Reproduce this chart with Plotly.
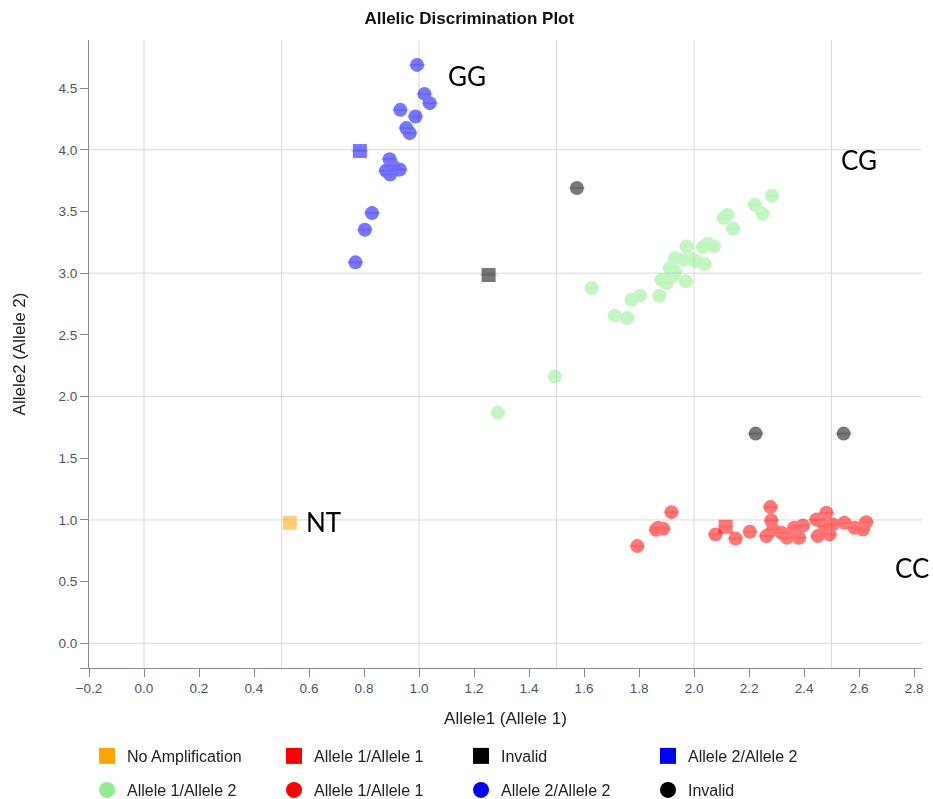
import plotly.graph_objects as go

# ---- data (Allele1 signal, Allele2 signal) ----
# Squares (controls / reference wells)
noamp_sq_x = [0.530]
noamp_sq_y = [0.977]
a1a1_sq_x = [2.115]
a1a1_sq_y = [0.945]
inv_sq_x = [1.253]
inv_sq_y = [2.985]
a2a2_sq_x = [0.785]
a2a2_sq_y = [3.990]

# Circles (samples)
a1a2_x = [2.284, 2.221, 2.249, 2.108, 2.122, 2.142, 1.973, 2.033, 2.051, 2.072,
          1.930, 1.961, 1.991, 2.009, 2.039, 1.912, 1.930, 1.924, 1.882, 1.900,
          1.970, 1.874, 1.803, 1.773, 1.628, 1.712, 1.757, 1.494, 1.287]
a1a2_y = [3.628, 3.555, 3.482, 3.447, 3.474, 3.360, 3.217, 3.212, 3.239, 3.217,
          3.123, 3.109, 3.115, 3.096, 3.075, 3.042, 3.015, 2.980, 2.947, 2.921,
          2.934, 2.818, 2.818, 2.785, 2.880, 2.656, 2.637, 2.162, 1.870]

a1a1_x = [1.794, 1.870, 1.888, 1.862, 1.918, 2.078, 2.151, 2.203, 2.278, 2.281,
          2.263, 2.287, 2.318, 2.338, 2.364, 2.382, 2.396, 2.445, 2.450, 2.481,
          2.475, 2.493, 2.505, 2.547, 2.584, 2.614, 2.626]
a1a1_y = [0.788, 0.937, 0.929, 0.920, 1.063, 0.883, 0.850, 0.904, 1.104, 0.996,
          0.869, 0.923, 0.896, 0.856, 0.937, 0.856, 0.955, 1.004, 0.869, 1.058,
          0.950, 0.883, 0.964, 0.977, 0.937, 0.923, 0.982]

a2a2_x = [0.993, 1.020, 1.039, 0.932, 0.987, 0.954, 0.966, 0.893, 0.905, 0.920,
          0.880, 0.895, 0.930, 0.829, 0.803, 0.769]
a2a2_y = [4.688, 4.453, 4.378, 4.324, 4.270, 4.176, 4.135, 3.924, 3.870, 3.840,
          3.830, 3.800, 3.840, 3.487, 3.352, 3.088]

inv_x = [1.574, 2.224, 2.544]
inv_y = [3.690, 1.700, 1.700]

# Cluster labels
cluster_labels = ["GG", "CG", "NT", "CC"]
cluster_lx = [1.175, 2.599, 0.652, 2.793]
cluster_ly = [4.601, 3.921, 0.984, 0.611]

# Axis ticks / grid
x_tickvals = [-0.2, 0.0, 0.2, 0.4, 0.6, 0.8, 1.0, 1.2, 1.4, 1.6, 1.8, 2.0, 2.2, 2.4, 2.6, 2.8]
y_tickvals = [-0.2, 0.0, 0.5, 1.0, 1.5, 2.0, 2.5, 3.0, 3.5, 4.0, 4.5]
y_ticktext = ["", "0.0", "0.5", "1.0", "1.5", "2.0", "2.5", "3.0", "3.5", "4.0", "4.5"]
grid_x = [0.0, 0.5, 1.0, 1.5, 2.0, 2.5]
grid_y = [0.0, 1.0, 2.0, 3.0, 4.0]

C_ORANGE = "#FFA500"
C_RED = "#FF0000"
C_BLACK = "#000000"
C_BLUE = "#0000FF"
C_GREEN = "#90EE90"

MS = 14
OP = 0.53

fig = go.Figure()


def add_points(xs, ys, color, symbol):
    fig.add_trace(go.Scatter(x=xs, y=ys, mode="markers", showlegend=False,
                             hoverinfo="x+y", opacity=OP,
                             marker=dict(symbol=symbol, size=MS, color=color,
                                         line=dict(width=0))))
    # faint horizontal band through each marker, as in the reference
    fig.add_trace(go.Scatter(x=xs, y=ys, mode="markers", showlegend=False,
                             hoverinfo="skip", opacity=0.14,
                             marker=dict(symbol="line-ew", size=MS - 2,
                                         color=color,
                                         line=dict(width=2, color=color))))


add_points(a1a2_x, a1a2_y, C_GREEN, "circle")
add_points(a1a1_x, a1a1_y, C_RED, "circle")
add_points(a2a2_x, a2a2_y, C_BLUE, "circle")
add_points(inv_x, inv_y, C_BLACK, "circle")
add_points(noamp_sq_x, noamp_sq_y, C_ORANGE, "square")
add_points(a1a1_sq_x, a1a1_sq_y, C_RED, "square")
add_points(inv_sq_x, inv_sq_y, C_BLACK, "square")
add_points(a2a2_sq_x, a2a2_sq_y, C_BLUE, "square")

# legend entries
legend_rows = [
    ("legend", "square", [("No Amplification", C_ORANGE), ("Allele 1/Allele 1", C_RED),
                          ("Invalid", C_BLACK), ("Allele 2/Allele 2", C_BLUE)]),
    ("legend2", "circle", [("Allele 1/Allele 2", C_GREEN), ("Allele 1/Allele 1", C_RED),
                           ("Allele 2/Allele 2", C_BLUE), ("Invalid", C_BLACK)]),
]
for leg, sym, items in legend_rows:
    for name, col in items:
        fig.add_trace(go.Scatter(x=[None], y=[None], mode="markers", name=name,
                                 legend=leg,
                                 marker=dict(symbol=sym, size=16, color=col)))

for gx in grid_x:
    fig.add_shape(type="line", xref="x", yref="paper", x0=gx, x1=gx, y0=0, y1=1,
                  line=dict(color="#d9d9d9", width=1), layer="below")
for gy in grid_y:
    fig.add_shape(type="line", xref="paper", yref="y", x0=0, x1=1, y0=gy, y1=gy,
                  line=dict(color="#d9d9d9", width=1), layer="below")

for t, lx, ly in zip(cluster_labels, cluster_lx, cluster_ly):
    fig.add_annotation(x=lx, y=ly, text=t, showarrow=False,
                       font=dict(family="Lato", size=26, color="#000000"),
                       xanchor="center", yanchor="middle")

FONT = "Liberation Sans, Arial, sans-serif"
TICKC = "#4a5568"
legend_common = dict(orientation="h", xanchor="left", yanchor="middle",
                     font=dict(family=FONT, size=16, color="#222222"),
                     entrywidth=142, entrywidthmode="pixels",
                     bgcolor="rgba(0,0,0,0)", itemclick=False, itemdoubleclick=False)

fig.update_layout(
    width=933, height=799,
    margin=dict(l=89, r=11, t=40, b=131, autoexpand=False),
    paper_bgcolor="white", plot_bgcolor="white",
    font=dict(family=FONT, color="#222222"),
    title=dict(text="<b>Allelic Discrimination Plot</b>", x=0.503, xref="container",
               xanchor="center", y=0.9775, yanchor="middle",
               font=dict(family=FONT, size=17, color="#111111")),
    xaxis=dict(range=[-0.2, 2.829], tickvals=x_tickvals, tickformat=".1f",
               showgrid=False, zeroline=False, showline=True, linecolor="#8a8a8a",
               linewidth=1, ticks="outside", ticklen=8, tickcolor="#8a8a8a",
               tickfont=dict(size=13.5, color=TICKC), automargin=False,
               title=dict(text="Allele1 (Allele 1)", standoff=16,
                          font=dict(size=17, color="#222222"))),
    yaxis=dict(range=[-0.2, 4.89], tickvals=y_tickvals, ticktext=y_ticktext,
               showgrid=False, zeroline=False, showline=True, linecolor="#8a8a8a",
               linewidth=1, ticks="outside", ticklen=8, tickcolor="#8a8a8a",
               tickfont=dict(size=13.5, color=TICKC), automargin=False,
               title=dict(text="Allele2 (Allele 2)", standoff=28,
                          font=dict(size=17, color="#222222"))),
    legend=dict(x=-0.0024, y=-0.1401, **legend_common),
    legend2=dict(x=-0.0024, y=-0.1943, **legend_common),
    showlegend=True,
)

fig.write_html("out.html",
               config={"displayModeBar": False},
               post_script="document.body.style.margin='0px';"
                           "document.body.style.overflow='hidden';")
